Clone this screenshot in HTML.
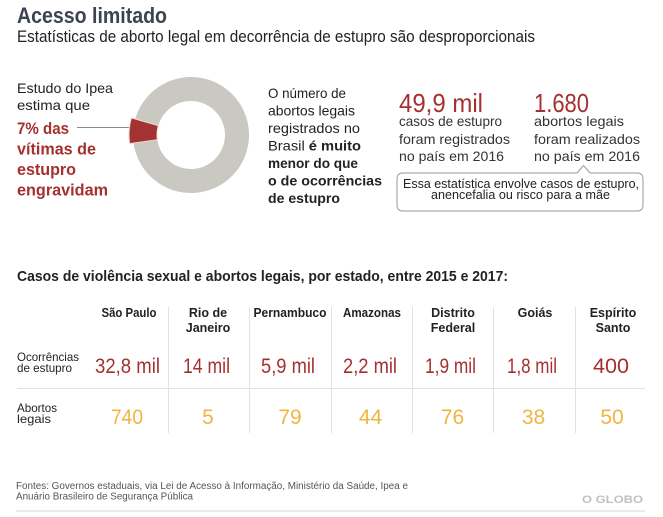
<!DOCTYPE html>
<html>
<head>
<meta charset="utf-8">
<style>
  html,body{margin:0;padding:0;background:#fff;}
  svg{display:block;}
  .n{font-family:"Liberation Sans Narrow","Liberation Sans",sans-serif;}
  .s{font-family:"Liberation Sans",sans-serif;}
</style>
</head>
<body>
<svg width="663" height="517" viewBox="0 0 663 517" xmlns="http://www.w3.org/2000/svg">
  <rect width="663" height="517" fill="#fff"/>

  <!-- Title -->
  <text class="n" x="17" y="23" font-size="22" font-weight="bold" fill="#3d4451" textLength="150" lengthAdjust="spacingAndGlyphs">Acesso limitado</text>
  <text class="n" x="17" y="42" font-size="16.5" fill="#222" textLength="518" lengthAdjust="spacingAndGlyphs">Estatísticas de aborto legal em decorrência de estupro são desproporcionais</text>

  <!-- Left text -->
  <text class="s" x="17" y="93" font-size="14" fill="#222" textLength="96" lengthAdjust="spacingAndGlyphs">Estudo do Ipea</text>
  <text class="s" x="17" y="110" font-size="14" fill="#222" textLength="73" lengthAdjust="spacingAndGlyphs">estima que</text>
  <g class="s" font-size="16.5" font-weight="bold" fill="#a5302f">
    <text x="17" y="134" textLength="52" lengthAdjust="spacingAndGlyphs">7% das</text>
    <text x="17" y="154.5" textLength="79" lengthAdjust="spacingAndGlyphs">vítimas de</text>
    <text x="17" y="175" textLength="59" lengthAdjust="spacingAndGlyphs">estupro</text>
    <text x="17" y="195.5" textLength="91" lengthAdjust="spacingAndGlyphs">engravidam</text>
  </g>
  <line x1="77" y1="127.5" x2="129" y2="127.5" stroke="#8a8a8a" stroke-width="1"/>

  <!-- Donut -->
  <path d="M135.25,119.01 A58,58 0 1 1 133.56,143.07 L157.33,139.73 A34,34 0 1 0 158.32,125.63 Z" fill="#c9c9c1"/>
  <path d="M129.60,143.63 A62,62 0 0 1 131.40,117.91 L158.32,125.63 A34,34 0 0 0 157.33,139.73 Z" fill="#a33330" stroke="#f3d9d4" stroke-width="1"/>

  <!-- Middle text -->
  <g class="s" font-size="14" fill="#222">
    <text x="268" y="98" textLength="78" lengthAdjust="spacingAndGlyphs">O número de</text>
    <text x="268" y="115.5" textLength="87" lengthAdjust="spacingAndGlyphs">abortos legais</text>
    <text x="268" y="133" textLength="92" lengthAdjust="spacingAndGlyphs">registrados no</text>
    <text x="268" y="150.5" textLength="93" lengthAdjust="spacingAndGlyphs">Brasil <tspan font-weight="bold">é muito</tspan></text>
    <text x="268" y="168" font-weight="bold" textLength="90" lengthAdjust="spacingAndGlyphs">menor do que</text>
    <text x="268" y="185.5" font-weight="bold" textLength="114" lengthAdjust="spacingAndGlyphs">o de ocorrências</text>
    <text x="268" y="203" font-weight="bold" textLength="72" lengthAdjust="spacingAndGlyphs">de estupro</text>
  </g>

  <!-- Right stats -->
  <text class="n" x="399" y="112" font-size="26" fill="#a5302f" textLength="84" lengthAdjust="spacingAndGlyphs">49,9 mil</text>
  <text class="n" x="534" y="112" font-size="26" fill="#a5302f" textLength="55" lengthAdjust="spacingAndGlyphs">1.680</text>
  <g class="s" font-size="14" fill="#333">
    <text x="399" y="126" textLength="103" lengthAdjust="spacingAndGlyphs">casos de estupro</text>
    <text x="399" y="144" textLength="111" lengthAdjust="spacingAndGlyphs">foram registrados</text>
    <text x="399" y="161" textLength="105" lengthAdjust="spacingAndGlyphs">no país em 2016</text>
    <text x="534" y="126" textLength="90" lengthAdjust="spacingAndGlyphs">abortos legais</text>
    <text x="534" y="144" textLength="106" lengthAdjust="spacingAndGlyphs">foram realizados</text>
    <text x="534" y="161" textLength="106" lengthAdjust="spacingAndGlyphs">no país em 2016</text>
  </g>

  <!-- Callout box -->
  <path d="M403,173 L577,173 L583.5,165.5 L590,173 L637,173 Q643,173 643,179 L643,205 Q643,211 637,211 L403,211 Q397,211 397,205 L397,179 Q397,173 403,173 Z" fill="#fff" stroke="#9a9a9a" stroke-width="1"/>
  <text class="s" x="521" y="188" font-size="13" fill="#222" text-anchor="middle" textLength="236" lengthAdjust="spacingAndGlyphs">Essa estatística envolve casos de estupro,</text>
  <text class="s" x="520.5" y="199" font-size="13" fill="#222" text-anchor="middle" textLength="179" lengthAdjust="spacingAndGlyphs">anencefalia ou risco para a mãe</text>

  <!-- Section header -->
  <text class="n" x="17" y="281" font-size="15" font-weight="bold" fill="#222" textLength="491" lengthAdjust="spacingAndGlyphs">Casos de violência sexual e abortos legais, por estado, entre 2015 e 2017:</text>

  <!-- Table grid -->
  <g stroke="#e2e2e2" stroke-width="1">
    <line x1="168.5" y1="307" x2="168.5" y2="433"/>
    <line x1="249.5" y1="307" x2="249.5" y2="433"/>
    <line x1="331.5" y1="307" x2="331.5" y2="433"/>
    <line x1="412.5" y1="307" x2="412.5" y2="433"/>
    <line x1="493.5" y1="307" x2="493.5" y2="433"/>
    <line x1="575.5" y1="307" x2="575.5" y2="433"/>
    <line x1="17" y1="388.5" x2="645" y2="388.5"/>
  </g>

  <!-- Column headers -->
  <g class="n" font-size="12.5" font-weight="bold" fill="#222" text-anchor="middle">
    <text x="129" y="317" textLength="55" lengthAdjust="spacingAndGlyphs">São Paulo</text>
    <text x="208" y="317">Rio de</text>
    <text x="208" y="332">Janeiro</text>
    <text x="290" y="317" textLength="73" lengthAdjust="spacingAndGlyphs">Pernambuco</text>
    <text x="372" y="317" textLength="58" lengthAdjust="spacingAndGlyphs">Amazonas</text>
    <text x="453" y="317">Distrito</text>
    <text x="453" y="332">Federal</text>
    <text x="535" y="317">Goiás</text>
    <text x="613" y="317">Espírito</text>
    <text x="613" y="332">Santo</text>
  </g>

  <!-- Row labels -->
  <g class="s" font-size="12" fill="#222">
    <text x="17" y="361" textLength="62" lengthAdjust="spacingAndGlyphs">Ocorrências</text>
    <text x="17" y="372" textLength="55" lengthAdjust="spacingAndGlyphs">de estupro</text>
    <text x="17" y="412" textLength="40" lengthAdjust="spacingAndGlyphs">Abortos</text>
    <text x="17" y="423" textLength="34" lengthAdjust="spacingAndGlyphs">legais</text>
  </g>

  <!-- Row values: occurrences -->
  <g class="n" font-size="21" fill="#a5302f" text-anchor="middle">
    <text x="127.5" y="373" textLength="65" lengthAdjust="spacingAndGlyphs">32,8 mil</text>
    <text x="206.5" y="373" textLength="47" lengthAdjust="spacingAndGlyphs">14 mil</text>
    <text x="288" y="373" textLength="54" lengthAdjust="spacingAndGlyphs">5,9 mil</text>
    <text x="370" y="373" textLength="54" lengthAdjust="spacingAndGlyphs">2,2 mil</text>
    <text x="450.5" y="373" textLength="51" lengthAdjust="spacingAndGlyphs">1,9 mil</text>
    <text x="532" y="373" textLength="50" lengthAdjust="spacingAndGlyphs">1,8 mil</text>
    <text x="611" y="373" textLength="36" lengthAdjust="spacingAndGlyphs">400</text>
  </g>

  <!-- Row values: legal abortions -->
  <g class="n" font-size="21" fill="#f1b441" text-anchor="middle">
    <text x="127" y="424" textLength="32" lengthAdjust="spacingAndGlyphs">740</text>
    <text x="208" y="424">5</text>
    <text x="290" y="424">79</text>
    <text x="370.5" y="424">44</text>
    <text x="452.5" y="424">76</text>
    <text x="533.5" y="424">38</text>
    <text x="612" y="424">50</text>
  </g>

  <!-- Footer -->
  <g class="s" font-size="10" fill="#555">
    <text x="16" y="489" textLength="392" lengthAdjust="spacingAndGlyphs">Fontes: Governos estaduais, via Lei de Acesso à Informação, Ministério da Saúde, Ipea e</text>
    <text x="16" y="499.5" textLength="177" lengthAdjust="spacingAndGlyphs">Anuário Brasileiro de Segurança Pública</text>
  </g>
  <text class="s" x="582" y="503" font-size="11" font-weight="bold" fill="#c2c2c2" textLength="61" lengthAdjust="spacingAndGlyphs">O GLOBO</text>
  <line x1="16" y1="511" x2="645" y2="511" stroke="#ebebeb" stroke-width="2"/>
</svg>
</body>
</html>
